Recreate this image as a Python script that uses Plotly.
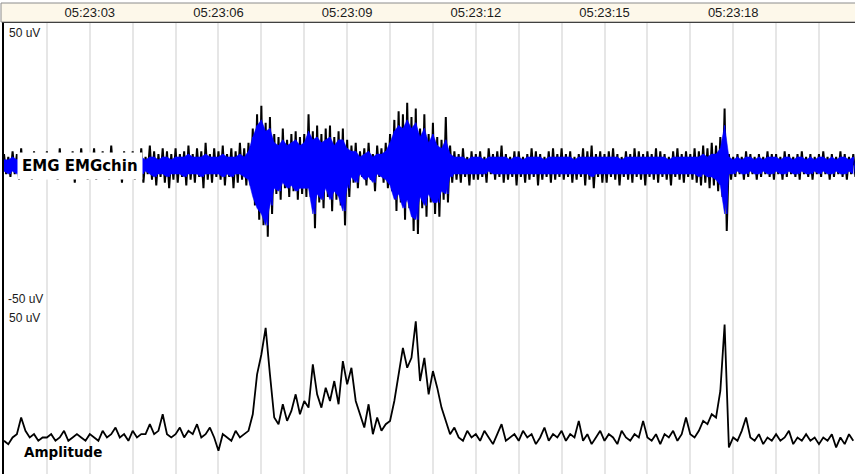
import numpy as np
import pandas as pd
import plotly.graph_objects as go

# ---- data (one sample every 0.1 s starting 05:23:01.0) ----
emg_hi = [
    4, 3, 5, 4, 6, 3, 4, 5, 3, 4,
    5, 3, 4, 6, 4, 3, 5, 4, 6, 3,
    4, 6, 3, 5, 4, 7, 3, 4, 5, 4,
    5, 4, 6, 3, 7, 5, 4, 6, 5, 4,
    6, 4, 5, 7, 4, 6, 5, 8, 4, 6,
    5, 7, 4, 6, 5, 8, 6, 8, 13, 18,
    21, 15, 17, 11, 10, 13, 9, 11, 12, 10,
    11, 18, 12, 14, 11, 13, 14, 10, 12, 13,
    9, 7, 8, 5, 6, 8, 4, 7, 6, 8,
    11, 16, 19, 18, 22, 17, 20, 13, 18, 11,
    15, 10, 9, 17, 7, 5, 4, 6, 3, 5,
    4, 5, 3, 6, 4, 5, 7, 4, 3, 5,
    5, 3, 4, 6, 5, 4, 3, 5, 6, 4,
    6, 4, 5, 3, 4, 6, 5, 7, 4, 5,
    4, 5, 6, 4, 3, 5, 4, 6, 5, 4,
    5, 4, 6, 5, 4, 3, 5, 6, 4, 5,
    4, 6, 5, 7, 6, 8, 7, 10, 20, 4,
    3, 4, 3, 5, 4, 3, 4, 3, 5, 4,
    4, 3, 5, 4, 3, 4, 5, 3, 4, 3,
    4, 5, 3, 4, 3, 5, 4, 3, 4,
]
emg_lo = [
    -3, -4, -3, -5, -4, -3, -5, -4, -3, -4,
    -4, -3, -5, -4, -3, -4, -6, -3, -4, -5,
    -3, -5, -4, -3, -5, -4, -3, -6, -4, -3,
    -5, -4, -6, -3, -5, -7, -4, -6, -8, -5,
    -6, -4, -7, -5, -6, -4, -8, -5, -6, -4,
    -5, -7, -4, -8, -6, -5, -7, -7, -14, -19,
    -21, -25, -17, -10, -12, -8, -11, -9, -12, -10,
    -11, -11, -22, -13, -15, -11, -16, -12, -14, -21,
    -11, -6, -8, -4, -7, -5, -9, -4, -6, -8,
    -9, -16, -13, -19, -15, -23, -24, -15, -18, -13,
    -17, -18, -12, -13, -6, -5, -6, -4, -7, -5,
    -5, -4, -6, -3, -5, -4, -6, -5, -4, -7,
    -4, -6, -5, -4, -7, -5, -4, -6, -5, -4,
    -5, -4, -6, -5, -4, -7, -5, -8, -4, -6,
    -6, -4, -5, -7, -4, -5, -6, -4, -5, -7,
    -4, -5, -6, -4, -5, -7, -4, -5, -6, -4,
    -5, -6, -7, -6, -8, -7, -9, -11, -23, -5,
    -4, -3, -5, -4, -3, -5, -4, -3, -4, -5,
    -3, -5, -4, -3, -4, -5, -3, -4, -5, -3,
    -4, -3, -5, -4, -3, -4, -5, -3, -4,
]
core_hi = [
    2, 2, 3, 2, 3, 2, 2, 3, 2, 2,
    3, 2, 2, 3, 2, 2, 3, 2, 3, 2,
    2, 3, 2, 3, 2, 3, 2, 2, 3, 2,
    3, 2, 3, 2, 3, 3, 2, 3, 3, 2,
    3, 3, 3, 4, 3, 3, 3, 4, 3, 3,
    3, 4, 3, 3, 3, 4, 3, 5, 10, 14,
    16, 12, 13, 8, 7, 9, 7, 8, 9, 7,
    8, 12, 9, 10, 8, 9, 10, 7, 9, 9,
    6, 5, 5, 3, 4, 5, 3, 4, 4, 5,
    8, 12, 14, 13, 16, 13, 15, 10, 13, 8,
    11, 7, 6, 9, 4, 3, 3, 3, 2, 3,
    3, 3, 2, 3, 3, 3, 3, 3, 2, 3,
    3, 2, 3, 3, 3, 3, 2, 3, 3, 3,
    3, 3, 3, 2, 3, 3, 3, 3, 3, 3,
    3, 3, 3, 3, 2, 3, 3, 3, 3, 3,
    3, 3, 3, 3, 3, 2, 3, 3, 3, 3,
    3, 3, 3, 4, 3, 4, 4, 6, 14, 3,
    2, 3, 2, 3, 3, 2, 3, 2, 3, 3,
    3, 2, 3, 3, 2, 3, 3, 2, 3, 2,
    3, 3, 2, 3, 2, 3, 3, 2, 3,
]
core_lo = [
    -2, -3, -2, -3, -2, -2, -3, -2, -2, -3,
    -3, -2, -3, -2, -2, -3, -3, -2, -3, -3,
    -2, -3, -3, -2, -3, -3, -2, -3, -3, -2,
    -3, -3, -3, -2, -3, -4, -3, -3, -4, -3,
    -3, -3, -4, -3, -3, -3, -4, -3, -3, -3,
    -3, -4, -3, -4, -3, -3, -4, -5, -11, -15,
    -17, -21, -14, -8, -9, -6, -8, -7, -9, -8,
    -8, -8, -17, -10, -12, -8, -12, -9, -11, -16,
    -8, -4, -6, -3, -5, -4, -6, -3, -4, -5,
    -7, -12, -10, -15, -12, -18, -19, -11, -14, -10,
    -13, -13, -9, -10, -4, -3, -3, -3, -3, -3,
    -3, -3, -3, -2, -3, -3, -3, -3, -3, -3,
    -3, -3, -3, -3, -3, -3, -3, -3, -3, -3,
    -3, -3, -3, -3, -3, -3, -3, -4, -3, -3,
    -3, -3, -3, -3, -3, -3, -3, -3, -3, -3,
    -3, -3, -3, -3, -3, -3, -3, -3, -3, -3,
    -3, -3, -4, -3, -4, -4, -5, -7, -17, -3,
    -3, -2, -3, -3, -2, -3, -3, -2, -3, -3,
    -2, -3, -3, -2, -3, -3, -2, -3, -3, -2,
    -3, -2, -3, -3, -2, -3, -3, -2, -3,
]
amplitude = [
    10, 9, 11, 12, 17, 13, 11, 12, 10, 11,
    11, 12, 10, 11, 13, 10, 11, 12, 11, 10,
    12, 11, 10, 13, 11, 12, 14, 11, 12, 10,
    13, 11, 12, 12, 15, 12, 13, 18, 12, 11,
    12, 14, 11, 13, 12, 15, 11, 12, 14, 11,
    7, 12, 11, 10, 13, 11, 12, 13, 18, 30,
    36, 44, 30, 17, 15, 21, 16, 19, 24, 18,
    22, 20, 33, 24, 20, 26, 22, 28, 21, 34,
    27, 32, 22, 18, 14, 21, 12, 17, 13, 15,
    16, 22, 30, 38, 32, 35, 46, 28, 35, 24,
    31, 26, 20, 16, 12, 14, 11, 10, 13, 11,
    12, 10, 13, 11, 9, 12, 15, 10, 11, 12,
    10, 13, 11, 12, 9, 11, 14, 10, 12, 11,
    13, 10, 12, 11, 16, 10, 12, 9, 11, 13,
    10, 12, 11, 9, 13, 11, 10, 12, 11, 16,
    11, 10, 12, 9, 12, 11, 13, 10, 12, 17,
    12, 11, 13, 16, 15, 18, 17, 25, 45, 8,
    11, 10, 13, 17, 11, 10, 12, 9, 11, 10,
    12, 10, 11, 13, 9, 11, 10, 12, 10, 11,
    9, 11, 10, 12, 8, 11, 9, 12, 10,
]

t_start_s = 1.0
sample_step_s = 0.1
channel_label = "EMG EMGchin"
amp_label = "Amplitude"
scale_top = "50 uV"
scale_bottom = "-50 uV"

base = pd.Timestamp("2000-01-01 05:23:00")
secs = t_start_s + sample_step_s * np.arange(len(amplitude))
times = base + pd.to_timedelta(secs, unit="s")

# oscillating trace: each sample drawn as a swing from its max to its min
half = pd.to_timedelta(sample_step_s / 2, unit="s")
zz_x = np.empty(2 * len(times), dtype="datetime64[ns]")
zz_x[0::2] = times.values
zz_x[1::2] = (times + half).values


def zigzag(hi, lo):
    out = np.empty(2 * len(hi))
    out[0::2] = hi
    out[1::2] = lo
    return out


fig = go.Figure()
# black oscillation
fig.add_trace(go.Scatter(x=zz_x, y=zigzag(emg_hi, emg_lo), yaxis="y2", mode="lines",
                         line=dict(color="black", width=2.0), hoverinfo="skip"))
# blue core area
fig.add_trace(go.Scatter(x=times, y=core_lo, yaxis="y2", mode="lines",
                         line=dict(color="#0000FF", width=0.5), hoverinfo="skip"))
fig.add_trace(go.Scatter(x=times, y=core_hi, yaxis="y2", mode="lines", fill="tonexty",
                         fillcolor="#0000FF", line=dict(color="#0000FF", width=0.5), hoverinfo="skip"))
# blue oscillation on top
fig.add_trace(go.Scatter(x=zz_x, y=zigzag(core_hi, core_lo), yaxis="y2", mode="lines",
                         line=dict(color="#0000FF", width=1.0), hoverinfo="skip"))
fig.add_trace(go.Scatter(x=times, y=amplitude, yaxis="y", mode="lines",
                         line=dict(color="black", width=1.8), hoverinfo="skip"))

split = 166 / 451
grid_col = "#E6E6E6"
lab_font = dict(family="Liberation Sans", size=12, color="#1a1a1a")

fig.update_layout(
    width=855, height=474,
    margin=dict(l=4, r=0, t=23, b=0, autoexpand=False),
    paper_bgcolor="white", plot_bgcolor="white",
    showlegend=False,
    xaxis=dict(
        type="date", anchor="y2", side="top", automargin=False,
        range=[base + pd.Timedelta(seconds=1.0), base + pd.Timedelta(seconds=20.84)],
        tick0=base, dtick=3000, tickformat="%H:%M:%S",
        ticks="", showgrid=True, gridcolor=grid_col, gridwidth=1.5,
        minor=dict(dtick=1000, tick0=base, showgrid=True, gridcolor=grid_col, gridwidth=1.5),
        showline=True, linecolor="#404040", linewidth=1,
        tickfont=dict(family="Liberation Sans", size=13, color="#1a1a1a"),
        zeroline=False,
    ),
    yaxis=dict(domain=[0, split], range=[0, 50], showticklabels=False, showgrid=False,
               automargin=False, zeroline=False, ticks="", showline=True,
               linecolor="black", linewidth=2),
    yaxis2=dict(domain=[split, 1], range=[-50, 50], showticklabels=False, automargin=False,
                tickvals=[-50], showgrid=True, gridcolor=grid_col, gridwidth=1.5,
                zeroline=False, ticks="", showline=True, linecolor="black", linewidth=2),
)

# header band behind time labels
fig.add_shape(type="rect", xref="paper", yref="paper",
              x0=-3 / 851, x1=1.01, y0=1 + 1 / 451, y1=1 + 20 / 451,
              fillcolor="#FDF8EA", line=dict(color="#8C8C8C", width=1), layer="below")

fig.add_annotation(text=scale_top, xref="paper", yref="y2", x=0.002, y=50,
                   xanchor="left", yanchor="top", showarrow=False, font=lab_font, borderpad=2)
fig.add_annotation(text=scale_bottom, xref="paper", yref="y2", x=0.002, y=-50,
                   xanchor="left", yanchor="bottom", showarrow=False, font=lab_font, borderpad=1)
fig.add_annotation(text=scale_top, xref="paper", yref="y", x=0.002, y=50,
                   xanchor="left", yanchor="top", showarrow=False, font=lab_font, borderpad=2)
fig.add_annotation(text="<b>" + channel_label + "</b>", xref="paper", yref="y2", x=0.015, y=0,
                   xanchor="left", yanchor="middle", showarrow=False, bgcolor="white",
                   borderpad=4, font=dict(family="DejaVu Sans", size=15, color="black"))
fig.add_annotation(text="<b>" + amp_label + "</b>", xref="paper", yref="y", x=0.021, y=6.5,
                   xanchor="left", yanchor="middle", showarrow=False,
                   font=dict(family="DejaVu Sans", size=13.5, color="black"))

fig.write_html("out.html", config={"displayModeBar": False},
               post_script="document.body.style.margin='0';document.body.style.padding='0';")
